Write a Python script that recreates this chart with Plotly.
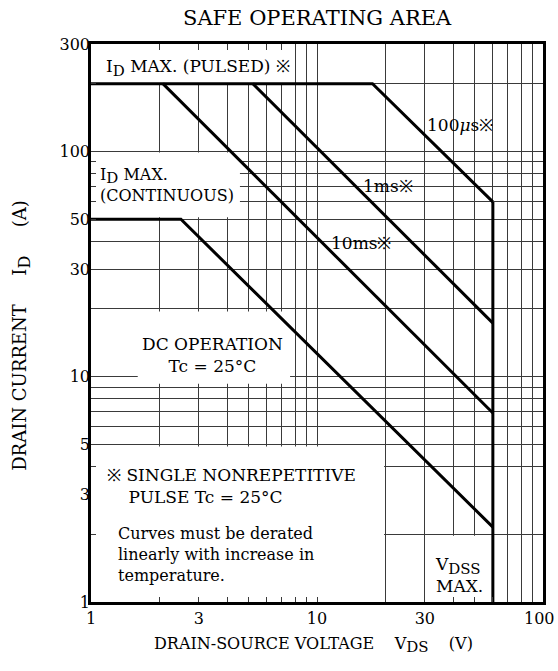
import math
import plotly.graph_objects as go

# ---------------- data ----------------
TITLE = "SAFE OPERATING AREA"
X_LABEL_TICKS = [1, 3, 10, 30, 100]
Y_LABEL_TICKS = [1, 3, 5, 10, 30, 50, 100, 300]
X_GRID = [2, 3, 4, 5, 6, 7, 8, 9, 10, 20, 30, 40, 50, 60, 70, 80, 90]
Y_GRID = [2, 4, 5, 6, 7, 8, 9, 10, 20, 30, 40, 50, 60, 70, 80, 90, 100, 200]

V_100US = [1, 17.6, 60]
I_100US = [200, 200, 59.7]
V_1MS = [5.2, 60]
I_1MS = [200, 17.3]
V_10MS = [2.08, 60]
I_10MS = [200, 6.9]
V_DC = [1, 2.5, 60]
I_DC = [50, 50, 2.15]
V_VDSS = [60, 60]
I_VDSS = [59.7, 1]

# label-box extents (x0, x1, y0, y1) in data units where the grid is blanked
BLANK_BOXES = [
    (1, 7.8, 200, 282),
    (1, 4.56, 51, 99),
    (1.61, 7.6, 9.3, 19.5),
    (1, 19.8, 1, 4.9),
    (30.5, 59, 1, 1.97),
]

FONT = "DejaVu Serif"
GRID_COLOR = "#3a3a3a"
LBL = 17

fig = go.Figure()

curve_style = dict(mode="lines", line=dict(color="black", width=3), hoverinfo="skip", showlegend=False)
for vx, iy in [(V_100US, I_100US), (V_1MS, I_1MS), (V_10MS, I_10MS), (V_DC, I_DC), (V_VDSS, I_VDSS)]:
    fig.add_trace(go.Scatter(x=vx, y=iy, **curve_style))

# invisible trace for the label axis
fig.add_trace(go.Scatter(x=[None], y=[None], yaxis="y2", showlegend=False, hoverinfo="skip"))

for (x0, x1, y0, y1) in BLANK_BOXES:
    fig.add_shape(type="rect", xref="x", yref="y", x0=x0, x1=x1, y0=y0, y1=y1,
                  fillcolor="white", line=dict(width=0), layer="between")

yr = [0, math.log10(300)]

x_ticktext = [str(v) if v in X_LABEL_TICKS[:-1] else "" for v in [1] + X_GRID + [100]]

fig.update_layout(
    width=558, height=671,
    margin=dict(l=91, r=15, t=44, b=69),
    paper_bgcolor="white", plot_bgcolor="white",
    font=dict(family=FONT, color="black", size=16),
    xaxis=dict(type="log", range=[0, 2], tickmode="array",
               tickvals=[1] + X_GRID + [100], ticktext=x_ticktext,
               showgrid=True, gridcolor=GRID_COLOR, gridwidth=1.2,
               ticks="inside", ticklen=5, tickcolor=GRID_COLOR, tickwidth=1.2,
               showline=True, linecolor="black", linewidth=2.5, mirror="ticks",
               zeroline=False, tickfont=dict(size=16, family=FONT)),
    yaxis=dict(type="log", range=yr, tickmode="array", tickvals=Y_GRID,
               showticklabels=False,
               showgrid=True, gridcolor=GRID_COLOR, gridwidth=1.2,
               ticks="inside", ticklen=5, tickcolor=GRID_COLOR, tickwidth=1.2,
               showline=True, linecolor="black", linewidth=2.5, mirror="ticks",
               zeroline=False),
    yaxis2=dict(type="log", range=yr, overlaying="y", side="left", anchor="x",
                tickmode="array", tickvals=Y_LABEL_TICKS,
                ticktext=[str(v) for v in Y_LABEL_TICKS],
                showgrid=False, zeroline=False, showline=False, ticks="",
                tickfont=dict(size=16, family=FONT)),
)

def L(v):
    return math.log10(v)

def sub(s, size):
    return '<sub><span style="font-size:%dpx">%s</span></sub>' % (size, s)

ann = []
def add(text, x, y, xanchor="center", size=LBL, align="center"):
    ann.append(dict(text=text, x=L(x), y=L(y), xref="x", yref="y", showarrow=False,
                    xanchor=xanchor, yanchor="middle", align=align,
                    font=dict(family=FONT, size=size, color="black")))

NB = "\u00a0"
add("I" + sub("D", 15) + " MAX. (PULSED) ※", 2.97, 234)
add("I" + sub("D", 15) + " MAX.<br>(CONTINUOUS)", 1.07, 71, xanchor="left", align="left", size=16)
add("DC OPERATION<br>Tc = 25°C", 3.45, 12.5)
add("100<i>μ</i>s※", 42.9, 131)
add("1ms※", 20.6, 70.2)
add("10ms※", 15.7, 39.2)
add("※ SINGLE NONREPETITIVE<br>" + NB * 4 + "PULSE Tc = 25°C", 1.15, 3.29, xanchor="left", align="left")
add("Curves must be derated<br>linearly with increase in<br>temperature.", 1.29, 1.63,
    xanchor="left", align="left", size=16)
add("V" + sub("DSS", 15) + "<br>MAX.", 32.6, 1.32, xanchor="left", align="left")

# right-end x tick label (annotation so it is not hidden at the div edge)
ann.append(dict(text=str(X_LABEL_TICKS[-1]), x=1 + 13 / 452, y=-16 / 558,
                xref="paper", yref="paper", xanchor="right", yanchor="middle",
                showarrow=False, borderpad=0, font=dict(family=FONT, size=16)))

ann.append(dict(text=TITLE, x=0.5, y=1 + 26 / 558, xref="paper", yref="paper",
                xanchor="center", yanchor="middle", showarrow=False,
                font=dict(family=FONT, size=21)))
ann.append(dict(text="DRAIN-SOURCE VOLTAGE" + NB * 4 + "V" + sub("DS", 15) + NB * 4 + "(V)",
                x=0.493, y=-43 / 558,
                xref="paper", yref="paper", xanchor="center", yanchor="middle",
                showarrow=False, font=dict(family=FONT, size=16)))
ann.append(dict(text="DRAIN CURRENT" + NB * 5 + "I" + sub("D", 16) + NB * 5 + "(A)",
                x=-69 / 452, y=0.477,
                xref="paper", yref="paper", xanchor="center", yanchor="middle",
                textangle=-90, showarrow=False, font=dict(family=FONT, size=18)))
fig.update_layout(annotations=ann)

# remove the default page margin so the 558x671 figure fills the window exactly
fig.write_html("out.html",
               config={"displayModeBar": False},
               post_script="document.body.style.margin='0';document.body.style.overflow='hidden';")
